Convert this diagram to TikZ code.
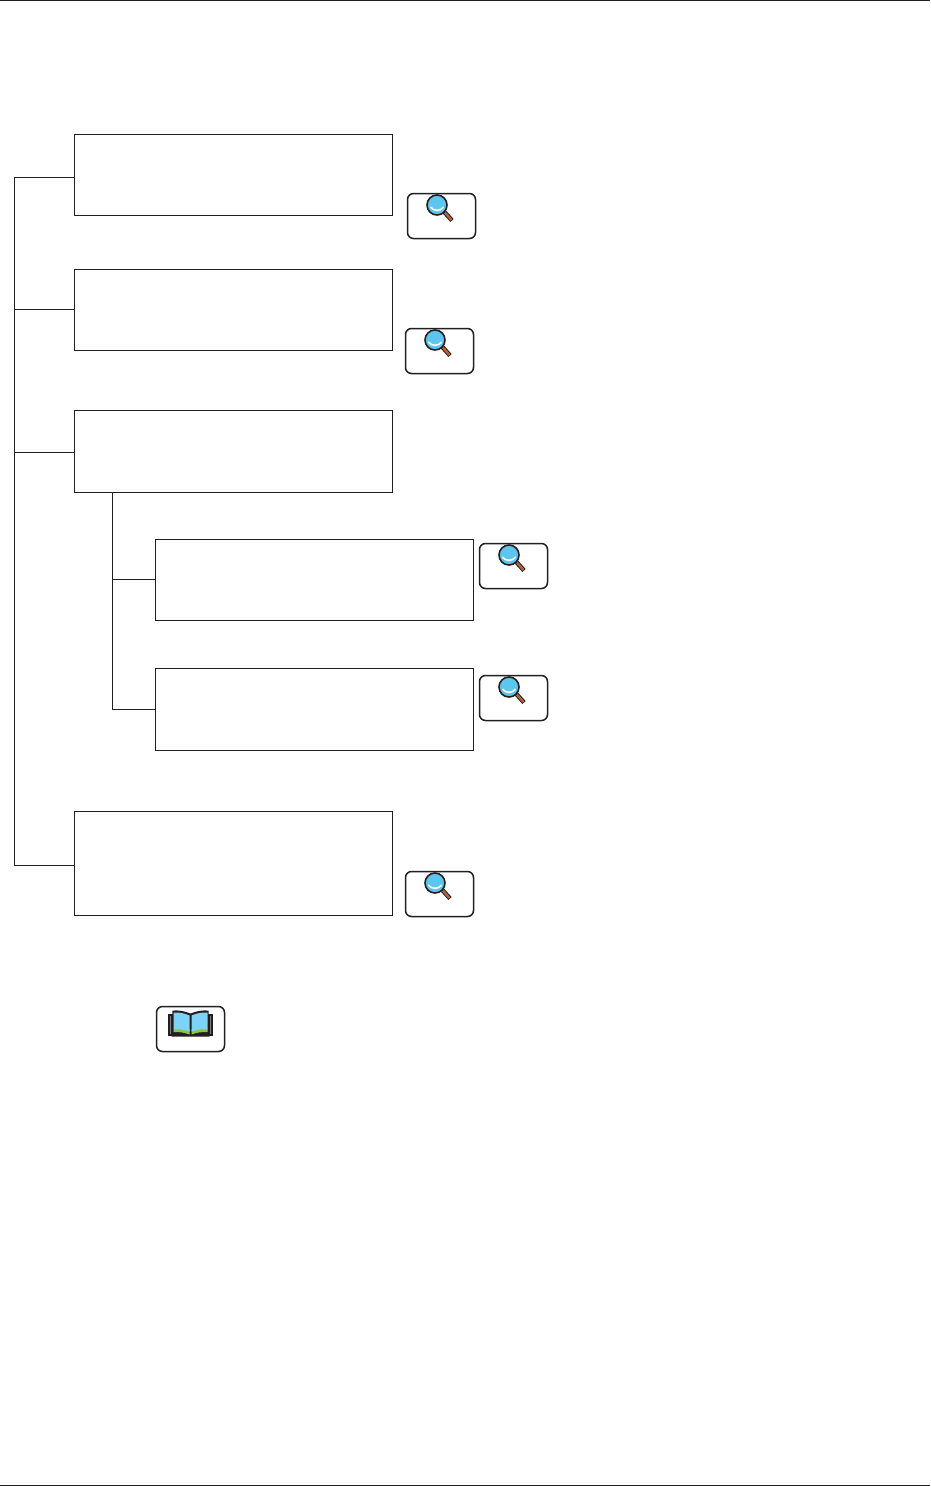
\documentclass[tikz,border=0pt]{standalone}
\usepackage{tikz}
\definecolor{lensblue}{HTML}{5CC6EE}
\definecolor{handlebrown}{HTML}{B5603A}
\definecolor{pageblue}{HTML}{7CD2F7}
\definecolor{pagegreen}{HTML}{8CC63F}
\definecolor{inkgrey}{HTML}{231F20}
\tikzset{
  textbox/.style={draw=inkgrey, line width=1pt, inner sep=0pt, minimum width=318pt},
  keybox/.style={draw=inkgrey, line width=1.5pt, rounded corners=6pt, inner sep=0pt, minimum width=68pt, minimum height=45pt},
  wire/.style={draw=inkgrey, line width=1pt}
}
\newcommand{\lenskey}[3]{
  \node[keybox] (#1) at (#2, #3) {};
  \draw[inkgrey, line width=4.4pt] ([shift={(2,-5)}]#1.center) to ([shift={(10.5,4.5)}]#1.center);
  \draw[handlebrown, line width=2.4pt] ([shift={(2,-5)}]#1.center) to ([shift={(10,4)}]#1.center);
  \draw[inkgrey, fill=lensblue, line width=1.6pt] ([shift={(-4.5,-11)}]#1.center) circle (10pt);
  \draw[white, line width=1.6pt] ([shift={(-11,-9)}]#1.center) to[bend right=60] ([shift={(2,-9)}]#1.center);
}
\begin{document}
\begin{tikzpicture}[x=1pt, y=-1pt]
\useasboundingbox (0, 0) rectangle (930, 1486);
\coordinate (topl) at (0, 0.6); \coordinate (topr) at (930, 0.6);
\coordinate (botl) at (0, 1485.2); \coordinate (botr) at (930, 1485.2);
\draw[inkgrey, line width=1.2pt] (topl) to (topr);
\draw[inkgrey, line width=1.2pt] (botl) to (botr);
\node[textbox, minimum height=81pt] (boxa) at (233.5, 175) {};
\node[textbox, minimum height=81pt] (boxb) at (233.5, 310) {};
\node[textbox, minimum height=82pt] (boxc) at (233.5, 451.5) {};
\node[textbox, minimum height=81pt] (boxd) at (314.5, 580) {};
\node[textbox, minimum height=82pt] (boxe) at (314.5, 709.5) {};
\node[textbox, minimum height=104pt] (boxf) at (233.5, 863.5) {};
\lenskey{keya}{441.5}{216}
\lenskey{keyb}{439.5}{351}
\lenskey{keyd}{513.5}{566}
\lenskey{keye}{513.5}{698}
\lenskey{keyf}{439.5}{894}
\node[keybox] (keybook) at (190.5, 1029) {};
\begin{scope}[shift={(keybook.center)}]
\fill[inkgrey] (-22.5, -15) rectangle (22.5, 6.5);
\fill[gray] (-20.4, -13) rectangle (-19.4, 5);
\fill[gray] (19.6, -13) rectangle (20.6, 5);
\fill[inkgrey] (-18, -18.5) to[bend left=12] (0, -15.5) to[bend left=12] (18, -18.5) to (19, 7.5) to (0, 7.5) to (-19, 7.5) to cycle;
\fill[pagegreen] (-17, 0) to (-1, 0) to (-1, 5.5) to[bend right=12] (-17, 3.2) to cycle;
\fill[pagegreen] (17, 0) to (1, 0) to (1, 5.5) to[bend left=12] (17, 3.2) to cycle;
\fill[pageblue] (-17, -16.5) to[bend left=12] (-1, -13.5) to (-1, 2.6) to[bend right=12] (-17, 0.4) to cycle;
\fill[pageblue] (17, -16.5) to[bend right=12] (1, -13.5) to (1, 2.6) to[bend left=12] (17, 0.4) to cycle;
\end{scope}
\coordinate (trunka) at (14.5, 177); \coordinate (trunkb) at (14.5, 309);
\coordinate (trunkc) at (14.5, 452); \coordinate (trunkf) at (14.5, 865);
\coordinate (subtop) at (112.5, 492); \coordinate (subd) at (112.5, 579);
\coordinate (sube) at (112.5, 709);
\draw[wire] (boxa.west |- trunka) to (trunka) to (trunkf) to (boxf.west |- trunkf);
\draw[wire] (boxb.west |- trunkb) to (trunkb);
\draw[wire] (boxc.west |- trunkc) to (trunkc);
\draw[wire] (subtop) to (sube) to (boxe.west |- sube);
\draw[wire] (boxd.west |- subd) to (subd);
\end{tikzpicture}
\end{document}
